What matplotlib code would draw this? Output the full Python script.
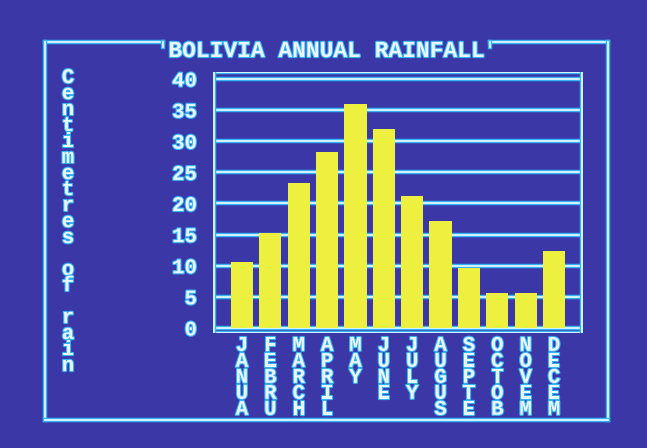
import matplotlib
matplotlib.use("Agg")
import matplotlib.pyplot as plt
import matplotlib.patheffects as pe
from matplotlib.lines import Line2D

months = ["JANUA", "FEBRU", "MARCH", "APRIL", "MAY", "JUNE",
          "JULY", "AUGUS", "SEPTE", "OCTOB", "NOVEM", "DECEM"]
rainfall = [10.6, 15.2, 23.3, 28.2, 36.0, 31.9, 21.2, 17.2, 9.6, 5.6, 5.6, 12.4]
yticks = [0, 5, 10, 15, 20, 25, 30, 35, 40]
title = "BOLIVIA ANNUAL RAINFALL"
ylabel = "Centimetres of rain"

BG = "#3b37a6"
BAR = "#eef040"
LINE = "#e4f6ff"
GLOW = "#35b4f5"
TXT = "#eaf6ff"
FONT = "Liberation Mono"
LS = 0.8

W, H = 647, 448
fig = plt.figure(figsize=(W / 100, H / 100), dpi=100, facecolor=BG)

def fx(px):
    return px / W

def fy(py):
    return 1 - py / H

left, right, top, bottom = 213, 583, 72, 333
ax = fig.add_axes([fx(left), fy(bottom), fx(right) - fx(left), (bottom - top) / H])
ax.set_facecolor(BG)

glow = [pe.Stroke(linewidth=3.2, foreground=GLOW), pe.Normal()]
tglow = [pe.Stroke(linewidth=1.6, foreground=GLOW), pe.Normal()]

x = list(range(len(months)))
ax.set_xlim(-1.02, 12.02)
ax.set_ylim(-0.8, 41.12)

for v in yticks:
    ax.axhline(v, color=LINE, lw=1.3, zorder=1, path_effects=glow)
ax.axhline(41.12 - 0.05, color=LINE, lw=1.3, zorder=1, path_effects=glow)
ax.axhline(-0.8 + 0.05, color=LINE, lw=1.3, zorder=3, path_effects=glow)
ax.axvline(-1.02 + 0.03, color=LINE, lw=1.3, zorder=3, path_effects=glow)
ax.axvline(12.02 - 0.03, color=LINE, lw=1.3, zorder=3, path_effects=glow)

ax.bar(x, rainfall, width=0.78, color=BAR, zorder=2)

for s in ax.spines.values():
    s.set_visible(False)

ax.set_yticks(yticks)
ax.set_yticklabels([str(v) for v in yticks])
ax.set_xticks(x)
ax.set_xticklabels(["\n".join(m) for m in months])
ax.tick_params(length=0)
ax.tick_params(axis="y", pad=11.5)
ax.tick_params(axis="x", pad=2)
for lab in ax.get_yticklabels():
    lab.set_fontfamily(FONT); lab.set_fontweight("bold"); lab.set_fontsize(15)
    lab.set_color(TXT); lab.set_path_effects(tglow)
for lab in ax.get_xticklabels():
    lab.set_fontfamily(FONT); lab.set_fontweight("bold"); lab.set_fontsize(15)
    lab.set_color(TXT); lab.set_path_effects(tglow); lab.set_linespacing(LS)
    lab.set_verticalalignment("top")

fig.text(fx(326.5), fy(57), title, ha="center", va="baseline",
         fontfamily=FONT, fontweight="bold", fontsize=16.5, color=TXT,
         path_effects=tglow)

fig.text(fx(68), fy(221.5), "\n".join(ylabel), ha="center", va="center",
         fontfamily=FONT, fontweight="bold", fontsize=15, color=TXT,
         linespacing=LS, path_effects=tglow)

# outer frame with a gap for the title
fl, fr, ft, fb = 45, 608, 42, 420
segs = [((fl, 163), (ft, ft)), ((490, fr), (ft, ft)), ((fl, fl), (ft, fb)),
        ((fr, fr), (ft, fb)), ((fl, fr), (fb, fb)),
        ((163, 163), (ft, ft + 5)), ((490, 490), (ft, ft + 5))]
for xs, ys in segs:
    fig.add_artist(Line2D([fx(v) for v in xs], [fy(v) for v in ys], color=LINE,
                          lw=1.3, transform=fig.transFigure, path_effects=glow))

fig.savefig("out.png", dpi=100, facecolor=BG)
